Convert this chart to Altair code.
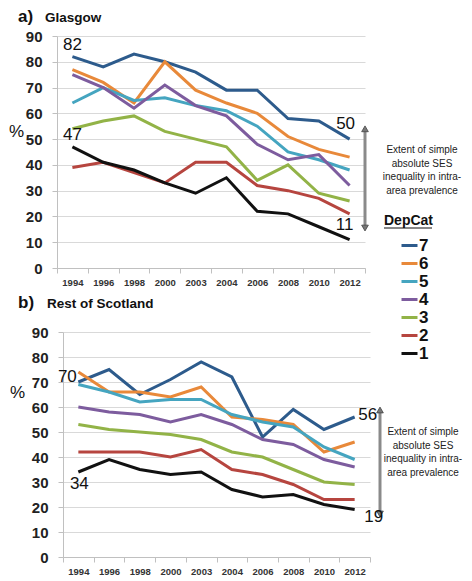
import altair as alt
import pandas as pd

years = ["1994", "1996", "1998", "2000", "2003", "2004", "2006", "2008", "2010", "2012"]
depcats = ["7", "6", "5", "4", "3", "2", "1"]
colors = ["#2D5B8C", "#E8893A", "#45A5C0", "#7D5C9E", "#92B347", "#B6453F", "#111111"]

# a) Glasgow
glasgow_7 = [82, 78, 83, 80, 76, 69, 69, 58, 57, 50]
glasgow_6 = [77, 72, 64, 80, 69, 64, 60, 51, 46, 43]
glasgow_5 = [64, 70, 65, 66, 63, 61, 55, 45, 42, 38]
glasgow_4 = [75, 70, 62, 71, 63, 59, 48, 42, 44, 32]
glasgow_3 = [54, 57, 59, 53, 50, 47, 34, 40, 29, 26]
glasgow_2 = [39, 41, 37, 33, 41, 41, 32, 30, 27, 21]
glasgow_1 = [47, 41, 38, 33, 29, 35, 22, 21, 16, 11]

# b) Rest of Scotland
rest_7 = [70, 75, 65, 71, 78, 72, 48, 59, 51, 56]
rest_6 = [74, 66, 66, 64, 68, 56, 55, 53, 42, 46]
rest_5 = [69, 66, 62, 63, 63, 57, 54, 52, 44, 39]
rest_4 = [60, 58, 57, 54, 57, 53, 47, 45, 39, 36]
rest_3 = [53, 51, 50, 49, 47, 42, 40, 35, 30, 29]
rest_2 = [42, 42, 42, 40, 43, 35, 33, 29, 23, 23]
rest_1 = [34, 39, 35, 33, 34, 27, 24, 25, 21, 19]

# arrow extent (in % units) for the inequality annotation
glasgow_arrow = [54, 15.5]
rest_arrow = [58.8, 17.2]

annotation_lines = ["Extent of simple", "absolute SES", "inequality in intra-", "area prevalence"]

FONT = "Liberation Sans"


def make_df(series):
    rows = []
    for cat, vals in zip(depcats, series):
        for yr, v in zip(years, vals):
            rows.append({"year": yr, "depcat": cat, "value": v})
    return pd.DataFrame(rows)


glasgow_df = make_df([glasgow_7, glasgow_6, glasgow_5, glasgow_4, glasgow_3, glasgow_2, glasgow_1])
rest_df = make_df([rest_7, rest_6, rest_5, rest_4, rest_3, rest_2, rest_1])

legend = alt.Legend(
    title=None, orient="none", legendX=343, legendY=200,
    labelFont=FONT, labelFontSize=17, labelFontWeight="bold", labelColor="#111",
    symbolType="stroke", symbolStrokeWidth=3, symbolSize=256, labelOffset=0,
    rowPadding=0, padding=0, labelOverlap=False,
)


def panel(df, w, h, x_range, y_offset, title_letter, title_text, pct_x, pct_y, arrow, arrow_x,
          texts, text_x, text_y, letter_x, name_x, title_base):
    xaxis = alt.Axis(title=None, labelAngle=0, labelFont=FONT, labelFontSize=9.5,
                     labelFontWeight="bold", labelColor="#333", tickBand="extent",
                     domainColor="#c0c0c0", tickColor="#c0c0c0", tickSize=5,
                     grid=False, labelPadding=4)
    xscale = alt.Scale(paddingInner=0, paddingOuter=0, range=x_range)
    yscale = alt.Scale(domain=[0, 90], nice=False)
    yaxis = alt.Axis(values=list(range(0, 91, 10)), title="%", titleAngle=0,
                     titleFont=FONT, titleFontSize=17, titleFontWeight="normal",
                     titleColor="#111", titleX=pct_x, titleY=pct_y, titleAlign="center",
                     titleBaseline="middle",
                     labelFont=FONT, labelFontSize=15, labelFontWeight="bold",
                     labelColor="#222", labelOverlap=False, gridColor="#d9d9d9",
                     domainColor="#c0c0c0", offset=y_offset,
                     tickColor="#c0c0c0", tickSize=5, labelPadding=10)

    def X(f):
        return alt.X(f, sort=years, scale=xscale, axis=xaxis)

    def Y(f):
        return alt.Y(f, scale=yscale, axis=yaxis)

    lines = alt.Chart(df).mark_line(strokeWidth=3).encode(
        x=X("year:O"), y=Y("value:Q"),
        color=alt.Color("depcat:N", scale=alt.Scale(domain=depcats, range=colors), legend=legend),
    )
    one = pd.DataFrame({"top": [arrow[0]], "bot": [arrow[1]]})
    rule = alt.Chart(one).mark_rule(color="#8a8a8a", strokeWidth=3).encode(
        x=alt.value(arrow_x), y=Y("top:Q"), y2="bot:Q")
    up = alt.Chart(one).mark_point(shape="triangle-up", filled=True, size=45, color="#777",
                                   stroke="#444", strokeWidth=0.8, opacity=1).encode(
        x=alt.value(arrow_x), y=Y("top:Q"))
    down = alt.Chart(one).mark_point(shape="triangle-down", filled=True, size=45, color="#777",
                                     stroke="#444", strokeWidth=0.8, opacity=1).encode(
        x=alt.value(arrow_x), y=Y("bot:Q"))
    note = alt.Chart(one).mark_text(font=FONT, fontSize=10, lineHeight=13.7, align="center",
                                    baseline="top", color="#222").encode(
        x=alt.value(text_x), y=alt.value(text_y), text=alt.value(annotation_lines))
    letter = alt.Chart(one).mark_text(font=FONT, fontSize=17, fontWeight="bold", align="left",
                                      baseline="alphabetic", color="#111").encode(
        x=alt.value(letter_x), y=alt.value(title_base), text=alt.value(title_letter))
    name = alt.Chart(one).mark_text(font=FONT, fontSize=13.5, fontWeight="bold", align="left",
                                    baseline="alphabetic", color="#111").encode(
        x=alt.value(name_x), y=alt.value(title_base), text=alt.value(title_text))
    layers = [lines, rule, up, down, note, letter, name]
    for (yr, val, lab, dx, dy) in texts:
        t = alt.Chart(pd.DataFrame({"year": [yr], "value": [val], "label": [lab]})).mark_text(
            font=FONT, fontSize=17, dx=dx, dy=dy, color="#111").encode(
            x=X("year:O"), y=Y("value:Q"), text="label:N")
        layers.append(t)
    return alt.layer(*layers).properties(width=w, height=h)


top = panel(glasgow_df, 308, 232, [0, 308], 0, "a)", "Glasgow", -41, 95, glasgow_arrow, 308,
            [("1994", glasgow_7[0], "82", 0, -12), ("1994", glasgow_1[0], "47", 0, -12),
             ("2012", glasgow_7[-1], "50", -4, -15), ("2012", glasgow_1[-1], "11", -5, -15)],
            365, 109, -39, -12, -14)
depcat_title = alt.Chart(pd.DataFrame({"a": [0]})).mark_text(
    font=FONT, fontSize=14, fontWeight="bold", align="left", baseline="alphabetic",
    color="#111").encode(x=alt.value(327), y=alt.value(189), text=alt.value("DepCat"))
underline = alt.Chart(pd.DataFrame({"a": [0]})).mark_rule(color="#111", strokeWidth=1.2).encode(
    x=alt.value(327), x2=alt.value(375), y=alt.value(192))
top = alt.layer(top, depcat_title, underline)

bottom = panel(rest_df, 313, 225, [6, 313], -6, "b)", "Rest of Scotland", -46, 60, rest_arrow, 323,
               [("1994", rest_7[0], "70", -11, -5), ("1994", rest_1[0], "34", 1, 12),
                ("2012", rest_7[-1], "56", 13, -2), ("2012", rest_1[-1], "19", 19, 7)],
               366, 95, -39, -10, -24)

chart = alt.vconcat(top, bottom, spacing=7).configure_view(stroke=None).properties(padding=0)
chart.save("out.html", embed_options={"renderer": "svg", "actions": False})
